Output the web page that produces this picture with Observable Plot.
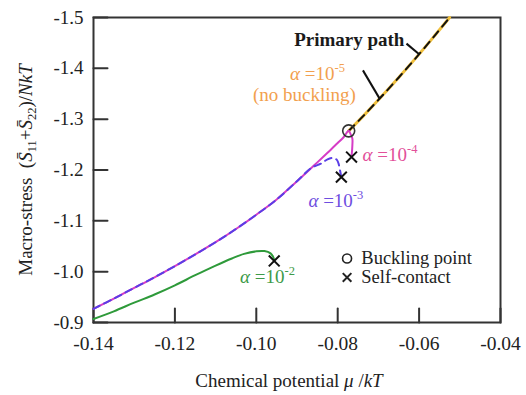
<!DOCTYPE html>
<html><head><meta charset="utf-8">
<script src="https://cdn.jsdelivr.net/npm/d3@7"></script>
<script src="https://cdn.jsdelivr.net/npm/@observablehq/plot@0.6"></script>
<style>
html,body{margin:0;padding:0;background:#fff;}
#chart svg{display:block;}
#chart svg, #chart svg text, #chart svg tspan, #chart svg g { font-family: 'Liberation Serif','Times New Roman',Times,serif !important; }
</style></head><body><div id="chart"></div>
<script>
// ---- axes ----
const xTicks = [-0.14, -0.12, -0.10, -0.08, -0.06, -0.04];
const xTickLabels = ["-0.14", "-0.12", "-0.10", "-0.08", "-0.06", "-0.04"];
const yTicks = [-0.9, -1.0, -1.1, -1.2, -1.3, -1.4, -1.5];
const yTickLabels = ["-0.9", "-1.0", "-1.1", "-1.2", "-1.3", "-1.4", "-1.5"];
const xLabel = "Chemical potential *μ* /*kT*";
const yLabel = "Macro-stress\u2002(*S\u0304*_{11}+*S\u0304*_{22})/*NkT*";

// ---- common branch (all α, before buckling) ----
const muMain = [-0.140, -0.135, -0.130, -0.125, -0.120, -0.115, -0.110, -0.105, -0.100, -0.095, -0.090, -0.087, -0.085, -0.0825, -0.080, -0.0785, -0.0773];
const sMain  = [-0.927, -0.947, -0.968, -0.989, -1.011, -1.034, -1.058, -1.084, -1.112, -1.142, -1.178, -1.200, -1.215, -1.234, -1.253, -1.265, -1.277];

// ---- primary path (α=1e-5, no buckling) ----
const muPrimary = [-0.0773, -0.0735, -0.0693, -0.0650, -0.0603, -0.0560, -0.0525];
const sPrimary  = [-1.277, -1.308, -1.344, -1.382, -1.425, -1.466, -1.500];

// ---- α = 1e-4 post-buckling branch ----
const muA4 = [-0.0768, -0.0764, -0.0764, -0.0766];
const sA4  = [-1.270, -1.262, -1.248, -1.226];

// ---- α = 1e-3 branch (leaves common branch before buckling) ----
const muA3 = [-0.140, -0.135, -0.130, -0.125, -0.120, -0.115, -0.110, -0.105, -0.100, -0.095, -0.090, -0.0865, -0.0840, -0.0825, -0.0812, -0.0802, -0.0797, -0.0794, -0.0791];
const sA3  = [-0.927, -0.947, -0.968, -0.989, -1.011, -1.034, -1.058, -1.084, -1.112, -1.142, -1.178, -1.204, -1.213, -1.221, -1.2235, -1.220, -1.210, -1.198, -1.186];

// ---- α = 1e-2 ----
const muA2 = [-0.140, -0.135, -0.130, -0.125, -0.120, -0.115, -0.110, -0.106, -0.103, -0.100, -0.098, -0.0965, -0.0958, -0.0956];
const sA2  = [-0.907, -0.922, -0.939, -0.955, -0.973, -0.993, -1.012, -1.026, -1.035, -1.040, -1.0405, -1.036, -1.028, -1.021];

// ---- special points ----
const muBuckling = [-0.0773];
const sBuckling  = [-1.277];
const muContact = [-0.0956, -0.0791, -0.0766];
const sContact  = [-1.021, -1.186, -1.2254];

// ---- annotations ----
const noteText = ["**Primary path**", "*α* =10^{-5}", "(no buckling)", "*α* =10^{-4}", "*α* =10^{-3}", "*α* =10^{-2}"];
const noteMu = [-0.0907, -0.0917, -0.1008, -0.0739, -0.0872, -0.1040];
const noteS  = [-1.455, -1.390, -1.347, -1.2306, -1.140, -0.9905];
const noteColor = ["#1a1a1a", "#f2a04e", "#f2a04e", "#e2509a", "#6e4ee0", "#3d9a48"];
const leaderMu1 = [-0.0631, -0.0738];
const leaderS1  = [-1.4486, -1.396];
const leaderMu2 = [-0.0599, -0.0697];
const leaderS2  = [-1.427, -1.3404];
const legendText = ["Buckling point", "Self-contact"];
const legendMu = [-0.0777, -0.0777];
const legendS  = [-1.026, -0.9886];
const legendTextMu = -0.0742;

const rows = (xs, ys) => xs.map((x, i) => ({x, y: ys[i]}));
const FONT = "'Liberation Serif','Times New Roman',Times,serif";
const tickShape = {draw(ctx, l) { ctx.moveTo(0, 0); ctx.lineTo(0, -l); }};
const mainRows = rows(muMain, sMain);
const a4Rows = mainRows.concat(rows(muA4, sA4));
const notes = noteText.map((t, i) => ({t, x: noteMu[i], y: noteS[i], c: noteColor[i]}));
const leaders = leaderMu1.map((x, i) => ({x1: x, y1: leaderS1[i], x2: leaderMu2[i], y2: leaderS2[i]}));

const plot = Plot.plot({
  width: 526, height: 395,
  marginLeft: 93, marginRight: 26, marginTop: 17, marginBottom: 73,
  style: {fontFamily: FONT, fontSize: "18px", background: "#fff", color: "#222"},
  x: {domain: [-0.14, -0.04]},
  y: {domain: [-0.9, -1.5]},
  marks: [
    Plot.frame({stroke: "#333", strokeWidth: 2}),
    Plot.vector(xTicks, {x: d => d, frameAnchor: "bottom", anchor: "start", length: 14, rotate: 0, shape: tickShape, stroke: "#333", strokeWidth: 2}),
    Plot.vector(yTicks, {y: d => d, frameAnchor: "left", anchor: "start", length: 14, rotate: 90, shape: tickShape, stroke: "#333", strokeWidth: 2}),
    Plot.axisX(xTicks, {tickSize: 0, tickPadding: 14, tickFormat: d => xTickLabels[xTicks.indexOf(d)], fontSize: 19.5, fontFamily: FONT, label: null, fill: "#222"}),
    Plot.axisY(yTicks, {tickSize: 0, tickPadding: 10, tickFormat: d => yTickLabels[yTicks.indexOf(d)], fontSize: 19, fontFamily: FONT, label: null, fill: "#222"}),
    Plot.text([xLabel], {text: d => d, frameAnchor: "bottom", textAnchor: "middle", dx: -8, dy: 64, fontSize: 19, fontFamily: FONT, fill: "#222"}),
    Plot.text([yLabel], {text: d => d, frameAnchor: "left", textAnchor: "middle", dx: -68, rotate: -90, fontSize: 19, fontFamily: FONT, fill: "#222"}),
    // curves
    Plot.line(rows(muPrimary, sPrimary), {x: "x", y: "y", stroke: "#f0bf3c", strokeWidth: 3, curve: "catmull-rom"}),
    Plot.line(rows(muPrimary, sPrimary), {x: "x", y: "y", stroke: "#111", strokeWidth: 2, strokeDasharray: "8,6", curve: "catmull-rom"}),
    Plot.line(rows(muA2, sA2), {x: "x", y: "y", stroke: "#2e9a3a", strokeWidth: 2, curve: "catmull-rom"}),
    Plot.line(a4Rows, {x: "x", y: "y", stroke: "#d63cc6", strokeWidth: 2, curve: "catmull-rom"}),
    Plot.line(rows(muA3, sA3), {x: "x", y: "y", stroke: "#5a3ee6", strokeWidth: 2, strokeDasharray: "7,5", curve: "catmull-rom"}),
    // markers
    Plot.dot(rows(muBuckling, sBuckling), {x: "x", y: "y", r: 6, stroke: "#333", strokeWidth: 1.6, fill: "none"}),
    Plot.dot(rows(muContact, sContact), {x: "x", y: "y", symbol: "times", r: 5, stroke: "#111", strokeWidth: 2}),
    // leaders
    Plot.link(leaders, {x1: "x1", y1: "y1", x2: "x2", y2: "y2", stroke: "#111", strokeWidth: 2}),
    // annotations
    Plot.text(notes, {x: "x", y: "y", text: "t", fill: "c", textAnchor: "start", fontSize: 19, fontFamily: FONT}),
    // legend
    Plot.dot([legendMu[0]], {x: d => d, y: () => legendS[0], r: 4.5, stroke: "#222", strokeWidth: 1.6, fill: "none"}),
    Plot.dot([legendMu[1]], {x: d => d, y: () => legendS[1], symbol: "times", r: 4, stroke: "#222", strokeWidth: 2}),
    Plot.text(legendText, {text: d => d, x: () => legendTextMu, y: (d, i) => legendS[i], textAnchor: "start", fontSize: 18.5, fontFamily: FONT, fill: "#222"})
  ]
});
document.getElementById("chart").appendChild(plot);

// rich text: *italic*, **bold**, ^{sup}, _{sub}
function parse(s) {
  const out = []; let buf = ""; let i = 0;
  const push = (t, m) => { if (t) out.push({t, m}); };
  while (i < s.length) {
    const c = s[i];
    if (c === "*" && s[i + 1] === "*") { push(buf, "n"); buf = ""; const j = s.indexOf("**", i + 2); push(s.slice(i + 2, j), "b"); i = j + 2; }
    else if (c === "*") { push(buf, "n"); buf = ""; const j = s.indexOf("*", i + 1); push(s.slice(i + 1, j), "i"); i = j + 1; }
    else if ((c === "^" || c === "_") && s[i + 1] === "{") { push(buf, "n"); buf = ""; const j = s.indexOf("}", i + 2); push(s.slice(i + 2, j), c === "^" ? "sup" : "sub"); i = j + 1; }
    else { buf += c; i++; }
  }
  push(buf, "n");
  return out;
}
const NS = "http://www.w3.org/2000/svg";
plot.querySelectorAll("text").forEach(el => {
  const s = el.textContent;
  if (!/[*]|\^\{|_\{/.test(s)) return;
  const fs = parseFloat(getComputedStyle(el).fontSize) || 18;
  const parts = parse(s);
  while (el.firstChild) el.removeChild(el.firstChild);
  el.style.whiteSpace = "pre";
  let shift = 0;
  for (const p of parts) {
    const ts = document.createElementNS(NS, "tspan");
    ts.textContent = p.t;
    let target = 0;
    if (p.m === "i") ts.setAttribute("font-style", "italic");
    if (p.m === "b") ts.setAttribute("font-weight", "bold");
    if (p.m === "sup") { ts.setAttribute("font-size", (fs * 0.66).toFixed(1)); target = -fs * 0.42; }
    if (p.m === "sub") { ts.setAttribute("font-size", (fs * 0.66).toFixed(1)); target = fs * 0.25; }
    if (target !== shift) { ts.setAttribute("dy", (target - shift).toFixed(2)); shift = target; }
    el.appendChild(ts);
  }
});
</script>
</body></html>
